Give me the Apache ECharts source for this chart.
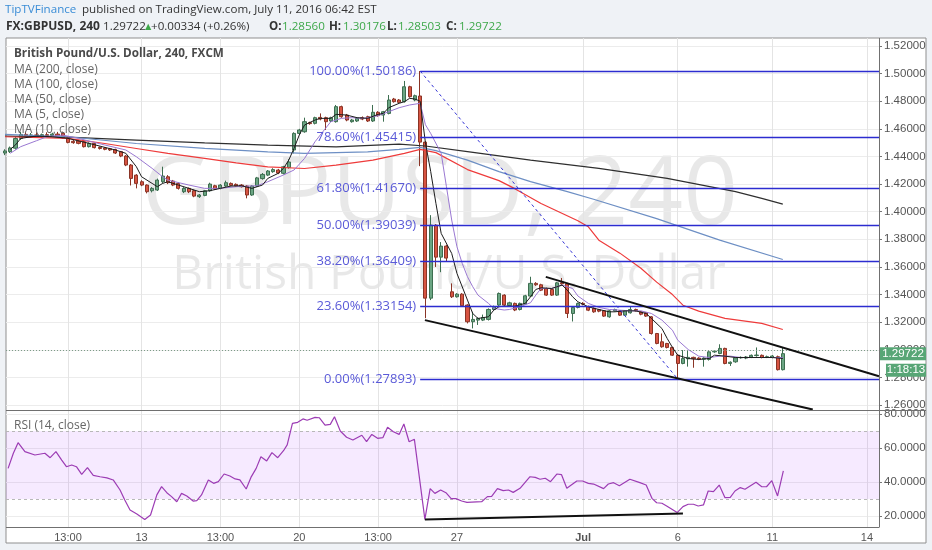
<!DOCTYPE html>
<html>
<head>
<meta charset="utf-8">
<title>GBPUSD 240</title>
<script src="https://cdn.jsdelivr.net/npm/echarts@6.0.0/dist/echarts.min.js"></script>
<style>
  html, body { margin: 0; padding: 0; background: #eff2f6; }
  #chart { width: 932px; height: 550px; }
</style>
</head>
<body>
<div id="chart"></div>
<script>
// 4h bars, bar 0 = left edge (about Jun 8), bar 148 = Jul 11 05:00
// each bar: [open, close, low, high]
var candles = [
  [1.4425,1.4440,1.4410,1.4452],[1.4435,1.4462,1.4425,1.4472],[1.4460,1.4530,1.4450,1.4545],[1.4530,1.4560,1.4520,1.4578],
  [1.4560,1.4550,1.4540,1.4580],[1.4550,1.4556,1.4535,1.4570],[1.4556,1.4545,1.4538,1.4575],[1.4545,1.4558,1.4535,1.4566],
  [1.4558,1.4552,1.4545,1.4575],[1.4552,1.4562,1.4540,1.4572],[1.4562,1.4546,1.4538,1.4578],[1.4568,1.4535,1.4530,1.4580],
  [1.4535,1.4502,1.4495,1.4545],[1.4510,1.4500,1.4492,1.4520],[1.4512,1.4495,1.4488,1.4520],[1.4507,1.4471,1.4465,1.4512],
  [1.4471,1.4495,1.4465,1.4502],[1.4495,1.4464,1.4458,1.4500],[1.4466,1.4458,1.4450,1.4472],[1.4461,1.4452,1.4445,1.4468],
  [1.4456,1.4447,1.4440,1.4462],[1.4451,1.4425,1.4418,1.4456],[1.4435,1.4403,1.4395,1.4440],[1.4403,1.4338,1.4330,1.4410],
  [1.4338,1.4241,1.4190,1.4345],[1.4265,1.4205,1.4169,1.4272],[1.4217,1.4193,1.4185,1.4228],[1.4193,1.4145,1.4133,1.4198],
  [1.4152,1.4169,1.4140,1.4178],[1.4157,1.4229,1.4150,1.4240],[1.4217,1.4258,1.4205,1.4326],[1.4253,1.4210,1.4200,1.4265],
  [1.4222,1.4193,1.4185,1.4230],[1.4205,1.4169,1.4160,1.4212],[1.4145,1.4169,1.4135,1.4178],[1.4169,1.4145,1.4135,1.4175],
  [1.4152,1.4113,1.4105,1.4160],[1.4109,1.4121,1.4100,1.4128],[1.4118,1.4152,1.4112,1.4158],[1.4152,1.4200,1.4145,1.4210],
  [1.4188,1.4164,1.4158,1.4195],[1.4169,1.4193,1.4162,1.4200],[1.4186,1.4210,1.4180,1.4225],[1.4205,1.4191,1.4185,1.4212],
  [1.4198,1.4186,1.4180,1.4205],[1.4193,1.4181,1.4175,1.4200],[1.4186,1.4121,1.4097,1.4192],[1.4121,1.4186,1.4115,1.4192],
  [1.4186,1.4245,1.4180,1.4252],[1.4240,1.4270,1.4232,1.4280],[1.4265,1.4295,1.4258,1.4302],[1.4290,1.4305,1.4282,1.4315],
  [1.4302,1.4280,1.4272,1.4310],[1.4278,1.4325,1.4270,1.4332],[1.4320,1.4360,1.4312,1.4380],[1.4447,1.4567,1.4422,1.4575],
  [1.4567,1.4592,1.4560,1.4600],[1.4579,1.4652,1.4572,1.4681],[1.4645,1.4638,1.4630,1.4652],[1.4640,1.4681,1.4632,1.4688],
  [1.4683,1.4671,1.4662,1.4712],[1.4681,1.4652,1.4592,1.4688],[1.4657,1.4681,1.4650,1.4688],[1.4652,1.4761,1.4645,1.4773],
  [1.4761,1.4688,1.4680,1.4768],[1.4700,1.4664,1.4655,1.4708],[1.4652,1.4664,1.4645,1.4672],[1.4657,1.4676,1.4650,1.4684],
  [1.4681,1.4671,1.4663,1.4690],[1.4688,1.4657,1.4650,1.4695],[1.4657,1.4720,1.4650,1.4773],[1.4720,1.4696,1.4688,1.4728],
  [1.4700,1.4724,1.4652,1.4730],[1.4712,1.4809,1.4705,1.4845],[1.4816,1.4797,1.4790,1.4824],[1.4809,1.4792,1.4785,1.4816],
  [1.4797,1.4905,1.4790,1.4947],[1.4905,1.4833,1.4826,1.4912],[1.4809,1.4840,1.4800,1.4848],[1.4838,1.4504,1.4330,1.50186],
  [1.4504,1.3374,1.3229,1.4512],[1.3374,1.3903,1.3360,1.3975],[1.3903,1.3671,1.3600,1.3910],[1.3671,1.3751,1.3562,1.3780],
  [1.3751,1.3664,1.3640,1.3760],[1.3420,1.3384,1.3375,1.3481],[1.3384,1.3403,1.3378,1.3410],[1.3403,1.3319,1.3312,1.3410],
  [1.3324,1.3203,1.3191,1.3330],[1.3203,1.3220,1.3155,1.3275],[1.3215,1.3227,1.3180,1.3235],[1.3215,1.3234,1.3208,1.3255],
  [1.3220,1.3292,1.3212,1.3300],[1.3292,1.3312,1.3285,1.3320],[1.3324,1.3408,1.3318,1.3415],[1.3396,1.3324,1.3318,1.3402],
  [1.3321,1.3340,1.3315,1.3348],[1.3336,1.3288,1.3280,1.3342],[1.3292,1.3336,1.3285,1.3342],[1.3331,1.3391,1.3325,1.3398],
  [1.3389,1.3481,1.3382,1.3529],[1.3481,1.3471,1.3463,1.3490],[1.3471,1.3432,1.3425,1.3478],[1.3444,1.3396,1.3390,1.3450],
  [1.3437,1.3396,1.3390,1.3444],[1.3396,1.3485,1.3390,1.3492],[1.3485,1.3478,1.3470,1.3520],[1.3478,1.3263,1.3230,1.3485],
  [1.3263,1.3307,1.3205,1.3315],[1.3307,1.3336,1.3300,1.3342],[1.3336,1.3330,1.3322,1.3345],[1.3312,1.3287,1.3280,1.3320],
  [1.3300,1.3275,1.3268,1.3306],[1.3290,1.3280,1.3272,1.3296],[1.3282,1.3244,1.3238,1.3288],[1.3239,1.3282,1.3232,1.3288],
  [1.3282,1.3292,1.3276,1.3298],[1.3282,1.3251,1.3245,1.3288],[1.3251,1.3282,1.3245,1.3288],[1.3268,1.3292,1.3262,1.3315],
  [1.3292,1.3282,1.3276,1.3298],[1.3275,1.3258,1.3250,1.3280],[1.3268,1.3244,1.3238,1.3272],[1.3239,1.3118,1.3110,1.3244],
  [1.3118,1.3046,1.3040,1.3122],[1.3058,1.3022,1.3015,1.3118],[1.3046,1.3017,1.3010,1.3050],[1.3017,1.2961,1.2955,1.3022],
  [1.2961,1.2901,1.2792,1.2968],[1.2901,1.2937,1.2895,1.2998],[1.2935,1.2945,1.2878,1.2998],[1.2945,1.2935,1.2870,1.2950],
  [1.2940,1.2932,1.2925,1.2946],[1.2932,1.2940,1.2878,1.2946],[1.2930,1.2985,1.2922,1.2990],[1.2985,1.2990,1.2978,1.2998],
  [1.2973,1.3010,1.2968,1.3040],[1.3010,1.2901,1.2895,1.3015],[1.2901,1.2910,1.2883,1.2916],[1.2913,1.2942,1.2906,1.2948],
  [1.2942,1.2945,1.2936,1.2952],[1.2940,1.2948,1.2932,1.2955],[1.2947,1.2960,1.2940,1.2966],[1.2958,1.2962,1.2950,1.3017],
  [1.2960,1.2945,1.2938,1.2966],[1.2945,1.2950,1.2940,1.2958],[1.2944,1.2955,1.2938,1.2962],[1.2950,1.2856,1.2850,1.2958],
  [1.28560,1.29722,1.28503,1.30176]
];

// moving averages: [bar, price]
var ma200 = [[0,1.4548],[12,1.4540],[25,1.4519],[38,1.4499],[50,1.4482],[63,1.4470],[75,1.4490],[80,1.4476],[88,1.4435],
  [100,1.4374],[113,1.4314],[126,1.4242],[139,1.4145],[144,1.4097],[148,1.4055]];
var ma100 = [[0,1.4560],[12,1.4543],[25,1.4494],[38,1.4458],[50,1.4434],[57,1.4422],[69,1.4434],[75,1.4452],[79,1.4466],
  [82,1.4442],[88,1.4374],[94,1.4290],[100,1.4218],[107,1.4145],[112,1.4090],[124,1.3950],[136,1.3794],[148,1.3654]];
var ma50 = [[0,1.4543],[12,1.4531],[19,1.4494],[25,1.4458],[31,1.4422],[38,1.4386],[44,1.4354],[50,1.4325],[57,1.4313],
  [63,1.4337],[70,1.4374],[76,1.4422],[79,1.4452],[82,1.4428],[88,1.4305],[94,1.4225],[97,1.4167],[102,1.4060],[109,1.3935],
  [111,1.3891],[113,1.3794],[117,1.3700],[121,1.3590],[124,1.3490],[127,1.3400],[129,1.3323],[132,1.3280],[137,1.3227],
  [144,1.3191],[148,1.3147]];
var ma5 = [[1,1.4451],[2,1.4483],[3,1.4531],[6,1.4548],[9,1.4543],[12,1.4531],[16,1.4495],[19,1.4466],[21,1.4447],[23,1.4423],
  [25,1.4326],[26,1.4253],[28,1.4205],[29,1.4181],[30,1.4205],[31,1.4217],[33,1.4193],[35,1.4169],[37,1.4145],[39,1.4152],
  [41,1.4169],[43,1.4186],[45,1.4188],[47,1.4169],[49,1.4193],[50,1.4241],[52,1.4278],[53,1.4314],[54,1.4374],[55,1.4459],
  [56,1.4555],[57,1.4628],[59,1.4664],[60,1.4676],[62,1.4676],[63,1.4705],[65,1.4700],[67,1.4681],[69,1.4676],[71,1.4705],
  [72,1.4712],[73,1.4753],[75,1.4785],[76,1.4797],[77,1.4821],[78,1.4816],[79,1.4800],[80,1.4500],[81,1.4292],[82,1.4060],
  [83,1.3843],[85,1.3698],[86,1.3553],[88,1.3360],[89,1.3263],[90,1.3227],[92,1.3239],[93,1.3287],[94,1.3312],[95,1.3316],
  [97,1.3316],[99,1.3336],[100,1.3384],[101,1.3437],[102,1.3449],[104,1.3444],[105,1.3456],[106,1.3469],[107,1.3432],
  [108,1.3384],[109,1.3348],[111,1.3311],[113,1.3292],[115,1.3275],[116,1.3275],[118,1.3282],[120,1.3282],[122,1.3263],
  [123,1.3227],[125,1.3154],[126,1.3082],[127,1.3017],[128,1.2961],[130,1.2937],[132,1.2930],[134,1.2937],[135,1.2961],
  [137,1.2954],[139,1.2944],[141,1.2944],[144,1.2944],[146,1.2944],[148,1.2937]];
var ma10 = [[1,1.4423],[3,1.4471],[6,1.4514],[8,1.4543],[11,1.4555],[14,1.4531],[19,1.4483],[23,1.4447],[25,1.4398],
  [28,1.4314],[30,1.4253],[31,1.4229],[35,1.4193],[38,1.4169],[41,1.4169],[44,1.4181],[48,1.4188],[50,1.4217],[53,1.4266],
  [55,1.4302],[57,1.4386],[59,1.4507],[61,1.4604],[62,1.4652],[64,1.4676],[66,1.4681],[68,1.4676],[69,1.4681],[71,1.4695],
  [73,1.4724],[75,1.4753],[77,1.4773],[79,1.4785],[80,1.4630],[81,1.4567],[83,1.4423],[84,1.4181],[85,1.3940],[86,1.3746],
  [87,1.3626],[88,1.3529],[89,1.3457],[90,1.3396],[92,1.3336],[93,1.3300],[95,1.3288],[96,1.3292],[98,1.3312],[100,1.3341],
  [101,1.3396],[102,1.3444],[104,1.3444],[106,1.3469],[108,1.3444],[109,1.3390],[111,1.3336],[113,1.3307],[115,1.3292],
  [117,1.3287],[119,1.3282],[121,1.3282],[123,1.3263],[125,1.3215],[127,1.3142],[128,1.3070],[130,1.3002],[132,1.2954],
  [134,1.2944],[136,1.2954],[138,1.2954],[140,1.2944],[142,1.2944],[145,1.2944],[148,1.2944]];

// RSI(14): [bar, value]
var rsi = [[0.6,48.0],[1.6,56.9],[2.5,63.1],[3.8,57.9],[5.7,55.9],[7.6,56.9],[8.6,54.3],[9.7,57.9],[10.8,52.9],[11.7,49.0],
  [12.7,50.0],[13.6,49.0],[14.6,44.5],[15.7,48.4],[16.8,43.9],[18.1,43.1],[19.4,42.4],[20.6,41.2],[21.9,35.3],[22.8,29.4],
  [23.8,23.5],[25.1,21.2],[26.6,18.0],[27.7,20.6],[28.9,32.4],[29.8,37.3],[30.8,33.7],[31.7,31.4],[32.7,28.4],[33.6,33.3],
  [34.6,31.8],[35.8,28.8],[36.5,29.0],[37.4,32.4],[38.7,41.2],[39.7,39.2],[40.6,40.2],[41.7,44.7],[42.8,43.5],[43.8,41.8],
  [44.7,41.2],[45.9,35.9],[46.8,42.7],[47.8,48.0],[48.7,54.9],[49.8,52.4],[50.8,57.3],[51.9,54.3],[53.0,58.4],[53.7,61.8],
  [54.7,74.5],[55.7,75.1],[56.7,77.1],[57.5,76.3],[59.0,78.0],[59.8,77.8],[60.9,73.5],[61.9,73.9],[62.7,78.4],[63.8,70.0],
  [65.0,66.3],[66.2,64.7],[67.9,67.5],[68.8,63.7],[69.8,68.0],[70.9,65.7],[71.9,66.1],[72.8,72.2],[73.9,69.6],[75.0,68.0],
  [75.9,74.1],[76.9,63.7],[77.9,65.1],[79.9,18.0],[80.9,36.1],[81.8,33.3],[82.9,35.3],[83.9,33.7],[84.9,30.2],[85.8,30.2],
  [86.9,28.8],[87.9,28.0],[90.7,28.4],[91.8,31.4],[92.6,31.6],[93.7,36.1],[94.8,34.9],[95.8,35.3],[96.7,33.9],[98.0,36.3],
  [99.9,43.1],[100.9,42.7],[101.8,41.6],[102.8,42.2],[103.8,40.2],[105.0,44.7],[105.9,44.3],[106.9,36.3],[108.8,40.6],
  [109.9,40.6],[111.0,39.2],[112.0,38.8],[113.9,36.1],[114.8,38.8],[115.8,39.6],[116.9,37.8],[118.9,41.6],[120.8,39.6],
  [122.0,38.2],[123.1,30.4],[124.0,27.8],[125.0,27.5],[125.9,25.9],[127.9,22.0],[129.0,25.5],[130.0,26.9],[131.0,26.9],
  [131.9,25.9],[132.9,26.5],[133.8,34.7],[134.8,34.3],[135.9,38.2],[137.0,30.8],[138.0,31.0],[138.9,34.7],[139.9,36.7],
  [140.8,35.7],[142.9,39.8],[144.0,37.2],[144.9,37.2],[145.9,40.8],[147.0,31.8],[148.1,46.5]];

var tickBars = [12, 26, 41, 56, 71, 86, 110, 128, 146, 164];
var tickText = ['13:00', '13', '13:00', '20', '13:00', '27', 'Jul', '6', '11', '14'];
var priceTicks = [1.26, 1.28, 1.30, 1.32, 1.34, 1.36, 1.38, 1.40, 1.42, 1.44, 1.46, 1.48, 1.50, 1.52];
var rsiTicks = [20, 40, 60, 80];

var fibLevels = ['100.00%', '78.60%', '61.80%', '50.00%', '38.20%', '23.60%', '0.00%'];
var fibPrices = [1.50186, 1.45415, 1.41670, 1.39039, 1.36409, 1.33154, 1.27893];
var fibHighBar = 79, fibLowBar = 128;

var channelTop = [[102.9, 1.3528], [166.3, 1.2809]];
var channelBottom = [[79.9, 1.3215], [153.7, 1.2568]];
var rsiSupport = [[79.9, 17.9], [129, 21.4]];

var lastClose = 1.29722;
var countdown = '1:18:13';

var xMin = 0.2, xMax = 166.3;
var axisFont = 'Liberation Sans';

function maLine(name, data, color, width) {
  return {
    name: name, type: 'line', xAxisIndex: 0, yAxisIndex: 0, data: data,
    symbol: 'none', showSymbol: false, silent: true, z: 4,
    lineStyle: { color: color, width: width }
  };
}

function trendLine(data, xi, width) {
  return {
    type: 'line', xAxisIndex: xi, yAxisIndex: xi, data: data, symbol: 'none',
    silent: true, clip: false, z: 6, lineStyle: { color: '#111', width: width }
  };
}

var fibMarks = fibPrices.map(function (p, i) {
  return [{ coord: [fibHighBar, p], name: fibLevels[i] + '(' + p.toFixed(5) + ')' }, { coord: [xMax, p] }];
});

var option = {
  animation: false,
  backgroundColor: '#eff2f6',
  grid: [
    { left: 6, top: 38, width: 873, height: 372, outerBoundsMode: 'none' },
    { left: 6, top: 410, width: 873, height: 117, outerBoundsMode: 'none' }
  ],
  xAxis: [
    {
      type: 'value', gridIndex: 0, min: xMin, max: xMax,
      axisLine: { show: false }, axisTick: { show: false, customValues: tickBars },
      axisLabel: { show: false, customValues: tickBars },
      splitLine: { show: true, lineStyle: { color: '#e4e4e4' } }
    },
    {
      type: 'value', gridIndex: 1, min: xMin, max: xMax,
      axisLine: { show: false }, axisTick: { show: false, customValues: tickBars },
      axisLabel: {
        customValues: tickBars, margin: 5, color: '#555', fontSize: 11, fontFamily: axisFont,
        formatter: function (v) {
          var t = tickText[tickBars.indexOf(v)] || '';
          return t === 'Jul' ? '{b|' + t + '}' : t;
        },
        rich: { b: { fontWeight: 'bold', fontSize: 11, color: '#555', fontFamily: axisFont } }
      },
      splitLine: { show: true, lineStyle: { color: '#e4e4e4' } }
    }
  ],
  yAxis: [
    {
      type: 'value', gridIndex: 0, position: 'right', min: 1.2564, max: 1.5258,
      axisLine: { show: false },
      axisTick: { show: true, length: 3, customValues: priceTicks, lineStyle: { color: '#777' } },
      axisLabel: {
        customValues: priceTicks, margin: 5, color: '#555', fontSize: 11.5, fontFamily: axisFont,
        formatter: function (v) { return v.toFixed(5); }
      },
      splitLine: { show: true, lineStyle: { color: '#ececec' } }
    },
    {
      type: 'value', gridIndex: 1, position: 'right', min: 13.53, max: 82.35,
      axisLine: { show: false },
      axisTick: { show: true, length: 3, customValues: rsiTicks, lineStyle: { color: '#777' } },
      axisLabel: {
        customValues: rsiTicks, margin: 5, color: '#555', fontSize: 11.5, fontFamily: axisFont,
        formatter: function (v) { return v.toFixed(4); }
      },
      splitLine: { show: true, lineStyle: { color: '#ececec' } }
    }
  ],
  series: [
    {
      type: 'candlestick', xAxisIndex: 0, yAxisIndex: 0,
      data: candles.map(function (c, i) { return [i, c[0], c[1], c[2], c[3]]; }),
      encode: { x: 0, y: [1, 2, 3, 4] },
      barWidth: 3.6, z: 3, silent: true,
      itemStyle: { color: '#6ba583', color0: '#d75442', borderColor: '#3d6e50', borderColor0: '#8a3426', borderWidth: 1 },
      markLine: {
        silent: true, symbol: ['none', 'none'], label: { show: false },
        lineStyle: { color: '#7d9c88', type: [1, 2], width: 1 },
        data: [{ yAxis: lastClose }]
      }
    },
    maLine('MA200', ma200, '#2f2f2f', 1.2),
    maLine('MA100', ma100, '#6d8fc4', 1.2),
    maLine('MA50', ma50, '#ee3b3b', 1.2),
    maLine('MA10', ma10, '#9a78d2', 1),
    maLine('MA5', ma5, '#1c1c1c', 1),
    {
      type: 'line', xAxisIndex: 0, yAxisIndex: 0, data: [], z: 5, silent: true,
      markLine: {
        silent: true, symbol: ['none', 'none'],
        lineStyle: { color: '#2c2cd0', type: 'solid', width: 1.3 },
        label: { show: true, position: 'start', formatter: '{b}', color: '#5a5ad8', fontSize: 13, fontFamily: 'Open Sans', distance: 4 },
        data: fibMarks
      }
    },
    {
      type: 'line', xAxisIndex: 0, yAxisIndex: 0, symbol: 'none', silent: true, z: 5,
      data: [[fibHighBar, fibPrices[0]], [fibLowBar, fibPrices[fibPrices.length - 1]]],
      lineStyle: { color: '#3434d6', width: 1, type: [3, 3] }
    },
    trendLine(channelTop, 0, 2),
    trendLine(channelBottom, 0, 2),
    {
      type: 'line', xAxisIndex: 1, yAxisIndex: 1, data: rsi, symbol: 'none', silent: true, z: 5,
      lineStyle: { color: '#9c3cb4', width: 1.2 },
      markArea: { silent: true, itemStyle: { color: 'rgba(153,21,255,0.09)' }, data: [[{ yAxis: 30 }, { yAxis: 70 }]] },
      markLine: {
        silent: true, symbol: ['none', 'none'], label: { show: false },
        lineStyle: { color: '#b8b8b8', type: [3, 3], width: 1 },
        data: [{ yAxis: 30 }, { yAxis: 70 }]
      }
    },
    trendLine(rsiSupport, 1, 2)
  ]
};

var chart = echarts.init(document.getElementById('chart'));
chart.setOption(option);

function txt(x, y, s, size, color, weight, z, align, family) {
  return {
    type: 'text', x: x, y: y, z: z, silent: true,
    style: {
      text: s, fill: color, fontSize: size, fontWeight: weight || 'normal',
      fontFamily: family || 'Open Sans', align: align || 'left', verticalAlign: 'middle'
    }
  };
}

var py = chart.convertToPixel({ yAxisIndex: 0 }, lastClose);
var green = '#3ea84a';
var hs = 11.6;
var elements = [
  { type: 'rect', z: -10, silent: true, shape: { x: 6, y: 38, width: 920, height: 505 }, style: { fill: '#fff', stroke: '#8f8f8f', lineWidth: 1 } },
  txt(440, 197, 'GBPUSD, 240', 96, 'rgba(0,0,0,0.09)', 'normal', -5, 'center'),
  txt(449, 275, 'British Pound/U.S. Dollar', 48, 'rgba(0,0,0,0.09)', 'normal', -5, 'center'),
  { type: 'line', z: 40, silent: true, shape: { x1: 879.5, y1: 38, x2: 879.5, y2: 527 }, style: { stroke: '#707070', lineWidth: 1 } },
  { type: 'line', z: 40, silent: true, shape: { x1: 6, y1: 410.5, x2: 926, y2: 410.5 }, style: { stroke: '#707070', lineWidth: 1 } },
  { type: 'line', z: 40, silent: true, shape: { x1: 6, y1: 527.5, x2: 879.5, y2: 527.5 }, style: { stroke: '#707070', lineWidth: 1 } },

  txt(14, 54, 'British Pound/U.S. Dollar, 240, FXCM', 11.7, '#4a4a4a', 'bold', 50),
  txt(14, 70, 'MA (200, close)', 12, '#666', 'normal', 50),
  txt(14, 85, 'MA (100, close)', 12, '#666', 'normal', 50),
  txt(14, 100, 'MA (50, close)', 12, '#666', 'normal', 50),
  txt(14, 115, 'MA (5, close)', 12, '#666', 'normal', 50),
  txt(14, 130, 'MA (10, close)', 12, '#666', 'normal', 50),
  txt(14, 426, 'RSI (14, close)', 12, '#666', 'normal', 50),

  txt(5, 10, 'TipTVFinance', hs, '#3a8dd6', 'normal', 50),
  txt(82, 10, 'published on TradingView.com, July 11, 2016 06:42 EST', hs, '#333', 'normal', 50),
  txt(6, 27, 'FX:GBPUSD, 240', 12, '#333', 'bold', 50),
  txt(103, 27, '1.29722', hs, '#333', 'normal', 50),
  txt(143, 27, '\u25B2', 10.5, green, 'normal', 50),
  txt(151, 27, '+0.00334 (+0.26%)', hs, '#333', 'normal', 50),
  txt(269, 27, 'O:', hs, '#333', 'bold', 50),
  txt(282, 27, '1.28560', hs, green, 'normal', 50),
  txt(329, 27, 'H:', hs, '#333', 'bold', 50),
  txt(343, 27, '1.30176', hs, green, 'normal', 50),
  txt(387, 27, 'L:', hs, '#333', 'bold', 50),
  txt(398, 27, '1.28503', hs, green, 'normal', 50),
  txt(446, 27, 'C:', hs, '#333', 'bold', 50),
  txt(459, 27, '1.29722', hs, green, 'normal', 50),

  { type: 'rect', z: 60, silent: true, shape: { x: 880, y: py - 6.5, width: 46, height: 13 }, style: { fill: '#58a676' } },
  txt(903, py, lastClose.toFixed(5), 11.5, '#fff', 'normal', 61, 'center', axisFont),
  { type: 'rect', z: 60, silent: true, shape: { x: 886, y: py + 10, width: 40, height: 13 }, style: { fill: '#58a676' } },
  txt(906, py + 16.5, countdown, 11.5, '#fff', 'normal', 61, 'center', axisFont)
];
chart.setOption({ graphic: { elements: elements } });
</script>
</body>
</html>
